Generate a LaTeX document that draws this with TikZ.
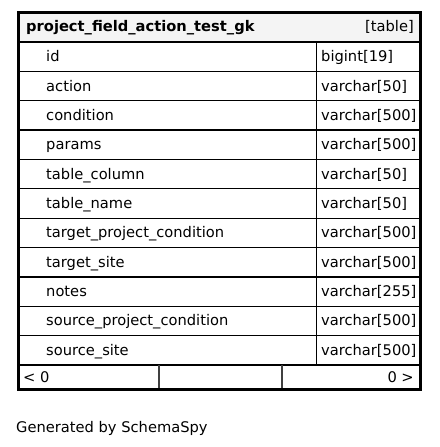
\documentclass[tikz,border=0pt]{standalone}
\usepackage{fontspec}
\setmainfont{DejaVu Sans}
\definecolor{hdrgray}{HTML}{F4F4F4}
\tikzset{
  txt/.style={inner sep=0pt, anchor=base west, font=\fontsize{14.67}{17}\selectfont},
  txtr/.style={inner sep=0pt, anchor=base east, font=\fontsize{14.67}{17}\selectfont},
  hdr/.style={inner sep=0pt, anchor=base west, font=\fontsize{14.67}{17}\selectfont\bfseries},
  gridline/.style={draw=black, line width=1.3pt},
  outer/.style={draw=black, line width=3pt},
  thinline/.style={draw=black!75, line width=1.3pt}
}
\begin{document}
\begin{tikzpicture}[x=1pt,y=-1pt]
\useasboundingbox (0,0) rectangle (439,447);
% header background
\fill[hdrgray] (18,12.5) rectangle (420,42);
% row lines
\foreach \yy in {42,71.4,100.7,130.1,159.5,188.8,218.2,247.5,276.9,306.3,335.6,365} {
  \draw[gridline] (18,\yy) -- (420,\yy);
}
% column divider for type cells
\draw[gridline] (316.7,42) -- (316.7,365);
% footer dividers
\draw[thinline] (159,365) -- (159,389);
\draw[thinline] (282,365) -- (282,389);
% outer border
\draw[outer] (18,12.5) rectangle (420,389);
% header
\node[hdr] (title) at (26,31) {project\_field\_action\_test\_gk};
\node[txtr] (kind) at (414,31) {[table]};
% fields
\foreach \nm/\ty [count=\i from 0] in {id/bigint[19],action/varchar[50],condition/varchar[500],params/varchar[500],table\_column/varchar[50],table\_name/varchar[50],target\_project\_condition/varchar[500],target\_site/varchar[500],notes/varchar[255],source\_project\_condition/varchar[500],source\_site/varchar[500]} {
  \pgfmathsetmacro{\yc}{42+29.36*\i+14.68+5}
  \node[txt] (f\i) at (46,\yc) {\nm};
  \node[txt] (t\i) at (321,\yc) {\ty};
}
% footer
\node[txt] (lt) at (23,382) {< 0};
\node[txtr] (gt) at (414,382) {0 >};
% caption
\node[txt] (gen) at (16,432) {Generated by SchemaSpy};
\end{tikzpicture}
\end{document}
